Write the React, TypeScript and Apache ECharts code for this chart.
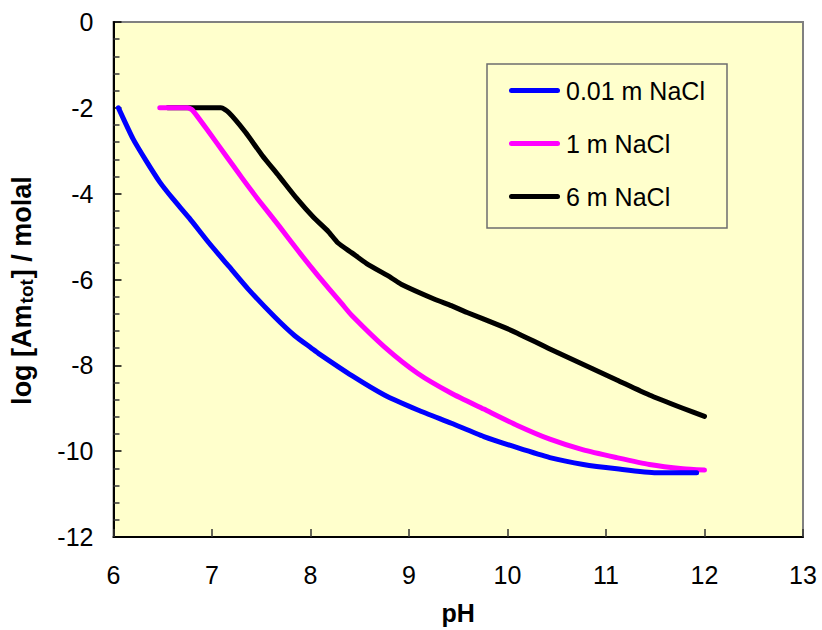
import React, { useEffect, useRef } from "react";
import * as echarts from "echarts";

// pH values and log total americium (molal) for each ionic medium
const phLow = [6.05, 6.2, 6.33, 6.47, 6.6, 6.77, 6.97, 7.17, 7.37, 7.64, 7.84, 8.01, 8.08, 8.42, 8.75, 9.09, 9.43, 9.76, 10.1, 10.43, 10.77, 11.11, 11.51, 11.92];
const logLow = [-2.0, -2.73, -3.23, -3.73, -4.11, -4.57, -5.15, -5.69, -6.23, -6.88, -7.31, -7.6, -7.72, -8.24, -8.69, -9.04, -9.35, -9.66, -9.92, -10.15, -10.31, -10.41, -10.5, -10.5];

const phMid = [6.47, 6.75, 6.8, 6.97, 7.14, 7.31, 7.48, 7.68, 7.88, 8.08, 8.32, 8.42, 8.75, 9.09, 9.43, 9.76, 10.1, 10.43, 10.77, 11.11, 11.44, 11.78, 12.0];
const logMid = [-2.0, -2.0, -2.05, -2.57, -3.11, -3.65, -4.17, -4.75, -5.35, -5.92, -6.57, -6.84, -7.57, -8.19, -8.65, -9.02, -9.4, -9.72, -9.97, -10.15, -10.31, -10.41, -10.44];

const phHigh = [6.55, 7.09, 7.17, 7.34, 7.51, 7.68, 7.86, 8.03, 8.18, 8.28, 8.42, 8.57, 8.82, 8.92, 9.26, 9.43, 9.59, 9.93, 10.1, 10.43, 10.77, 11.11, 11.44, 11.78, 12.0];
const logHigh = [-2.0, -2.0, -2.11, -2.57, -3.11, -3.59, -4.11, -4.55, -4.88, -5.15, -5.38, -5.63, -5.96, -6.11, -6.46, -6.61, -6.77, -7.08, -7.25, -7.62, -7.98, -8.34, -8.69, -9.0, -9.19];

const seriesNames = ["0.01 m NaCl", "1 m NaCl", "6 m NaCl"];
const seriesColors = ["#0000FF", "#FF00FF", "#000000"];

const FONT = "'Liberation Sans', Arial, sans-serif";

// rounded bar used as the legend key
const LEGEND_KEY = "path://M2.5,0 H48.5 A2.5,2.5 0 0 1 48.5,5 H2.5 A2.5,2.5 0 0 1 2.5,0 Z";

const zip = (xs: number[], ys: number[]) => xs.map((x, i) => [x, ys[i]]);

export default function App() {
  const ref = useRef<HTMLDivElement>(null);

  useEffect(() => {
    if (!ref.current) return;
    const chart = echarts.init(ref.current, undefined, { renderer: "svg" });
    const data = [zip(phLow, logLow), zip(phMid, logMid), zip(phHigh, logHigh)];

    chart.setOption({
      animation: false,
      textStyle: { fontFamily: FONT },
      grid: {
        left: 111,
        top: 22,
        width: 692,
        height: 520,
        show: true,
        backgroundColor: "#FFFFCC",
        borderColor: "#808080",
        borderWidth: 2,
      },
      graphic: [
        {
          type: "rect",
          shape: { x: 487, y: 64, width: 240, height: 164 },
          style: { fill: "transparent", stroke: "#6e6e6e", lineWidth: 1.5 },
          z: 5,
        },
      ],
      legend: {
        orient: "vertical",
        left: 487,
        top: 64,
        padding: [12, 10, 10, 22],
        itemWidth: 51,
        itemHeight: 5,
        itemGap: 24,
        icon: LEGEND_KEY,
        textStyle: { fontFamily: FONT, fontSize: 25, color: "#000", lineHeight: 29, padding: [0, 0, 0, 1] },
        data: seriesNames,
      },
      xAxis: {
        type: "value",
        min: 6,
        max: 13,
        interval: 1,
        name: "pH",
        nameLocation: "middle",
        nameGap: 63,
        nameTextStyle: { fontFamily: FONT, fontSize: 25, fontWeight: "bold", color: "#000" },
        axisLine: { show: true, onZero: false, lineStyle: { color: "#000", width: 2 } },
        axisTick: { show: true, inside: true, length: 8, lineStyle: { color: "#333", width: 1.5 } },
        axisLabel: { fontFamily: FONT, fontSize: 25, color: "#000", margin: 25 },
        splitLine: { show: false },
      },
      yAxis: {
        type: "value",
        min: -12,
        max: 0,
        interval: 2,
        name: "{a|log [Am}{s|tot}{a|] / molal}",
        nameLocation: "middle",
        nameRotate: 90,
        nameGap: 78,
        nameTextStyle: {
          padding: [0, 22, 0, 0],
          rich: {
            a: { fontFamily: FONT, fontSize: 27, fontWeight: "bold", color: "#000" },
            s: { fontFamily: FONT, fontSize: 19, fontWeight: "bold", color: "#000", verticalAlign: "bottom", padding: [9, 1, 0, 1] },
          },
        },
        axisLine: { show: true, onZero: false, lineStyle: { color: "#000", width: 2 } },
        axisTick: { show: true, inside: true, length: 8, lineStyle: { color: "#000", width: 1.5 } },
        minorTick: { show: true, splitNumber: 5, length: 6, lineStyle: { color: "#333", width: 1.5 } },
        axisLabel: { fontFamily: FONT, fontSize: 25, color: "#000", margin: 20 },
        splitLine: { show: false },
      },
      series: seriesNames.map((name, i) => ({
        name,
        type: "line",
        data: data[i],
        showSymbol: false,
        symbol: "none",
        smooth: 0.2,
        color: seriesColors[i],
        itemStyle: { color: seriesColors[i] },
        lineStyle: { color: seriesColors[i], width: 5, cap: "round", join: "round" },
        z: 3 - i,
      })),
    });

    return () => chart.dispose();
  }, []);

  return <div ref={ref} style={{ width: 822, height: 630, position: "absolute", left: 0, top: 0 }} />;
}
